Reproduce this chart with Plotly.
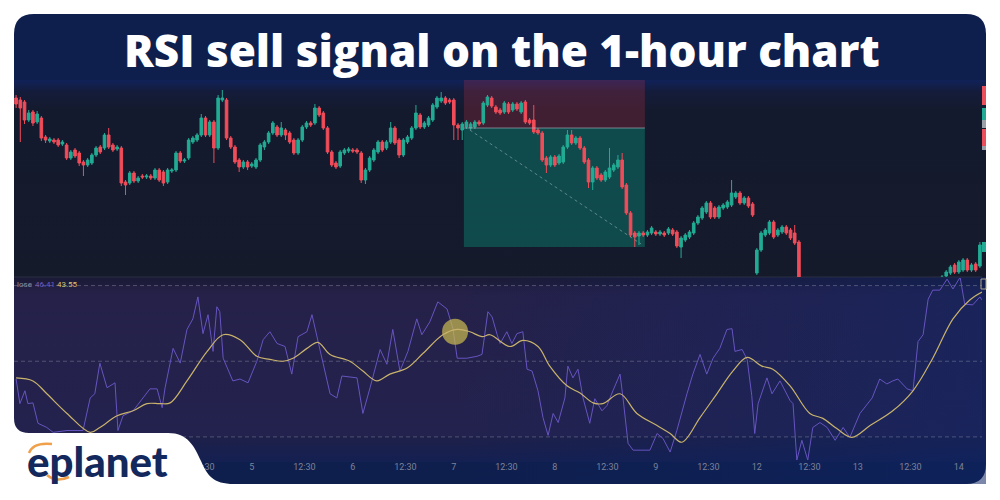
import plotly.graph_objects as go

# ---------------- data ----------------
# hourly candles (price units), index = candle number
open_ = [202,200,198,180,188,178,182,163,159,160,160,156,155,142,150,147,138,135,137,145,
         153,152,165,155,151,152,118,117,127,119,124,123,124,122,130,128,118,129,130,147,
         139,142,158,160,165,182,165,178,152,200,200,162,153,140,133,138,134,133,140,153,
         158,167,173,165,170,167,160,147,160,173,177,177,192,187,172,148,137,134,147,149,
         150,150,147,120,130,140,148,158,152,158,172,160,145,158,162,172,185,173,175,180,
         193,199,202,200,200,175,170,173,172,173,178,177,195,202,193,190,188,196,190,196,
         188,198,180,180,170,167,142,135,143,137,138,153,165,157,162,152,140,118,132,125,
         120,123,130,133,140,115,87,67,64,67,65,67,68,66,67,67,70,68,53,60,
         63,67,77,82,88,97,92,83,92,93,95,103,107,97,102,96,27,50,65,67,
         78,65,68,73,70,67,58,5,12,0,-10,-2,-5,2,-6,-12,-5,-10,-4,-11,
         -2,4,8,5,12,15,10,14,9,13,8,6,12,16,13,17,19,16,19,20,
         18,24,27,35,28,30,40,30,36,34]
high_ = [205,203,200,190,190,189,184,165,163,162,162,160,157,150,152,149,140,142,147,154,
         155,167,172,157,155,154,120,129,129,124,126,126,126,132,132,130,132,132,149,149,
         142,162,164,167,186,184,180,180,205,210,202,164,155,142,140,140,138,142,157,160,
         169,179,175,178,172,169,162,162,175,179,179,196,194,189,174,150,139,150,152,153,
         152,152,149,132,144,152,160,160,160,178,174,162,162,165,174,195,187,179,184,197,
         204,208,204,202,202,177,178,180,178,180,180,199,205,204,195,192,199,198,198,198,
         199,200,182,195,172,169,144,145,145,146,155,170,170,164,164,154,142,134,134,127,
         130,152,137,145,147,117,89,69,69,69,70,74,70,70,69,73,72,70,64,67,
         70,79,85,94,99,99,94,95,97,100,120,109,109,104,104,98,52,69,72,80,
         80,72,75,75,72,75,60,14,14,2,0,0,4,4,-4,-3,-3,-2,-2,0,
         6,10,10,14,17,17,16,16,15,15,10,14,18,18,19,20,20,20,21,21,
         25,30,35,37,40,42,42,37,38,58]
low_ = [192,158,176,178,174,176,159,157,157,156,153,154,140,140,142,134,124,133,135,143,
        146,150,151,148,149,114,105,115,117,117,121,121,120,120,118,114,116,127,128,137,
        137,140,156,158,163,163,163,137,150,198,160,151,136,128,131,130,132,131,138,150,
        156,165,163,163,160,156,145,145,158,171,173,175,183,170,146,133,131,132,145,147,
        147,146,117,116,128,138,146,148,150,156,155,142,143,156,160,170,171,171,173,178,
        191,197,195,196,160,160,160,171,170,171,174,175,193,192,186,185,186,186,188,189,
        186,176,175,166,165,138,127,133,133,135,136,151,155,155,150,136,112,110,120,118,
        118,121,128,131,111,85,63,53,55,63,63,65,64,64,63,65,64,52,42,58,
        61,65,75,80,86,81,81,81,90,91,93,101,95,95,92,83,25,48,63,65,
        61,63,66,65,60,55,5,3,-2,-12,-12,-7,-7,-8,-14,-14,-12,-12,-13,-13,
        -4,2,3,3,10,8,8,7,7,6,4,4,10,11,11,15,14,14,17,16,
        16,22,25,26,26,28,28,28,28,32]
close_ = [196,192,180,187,177,186,162,160,161,158,155,158,142,148,144,137,135,140,145,152,
          148,165,153,150,153,117,115,127,119,122,123,124,122,130,120,117,130,130,147,139,
          140,160,162,165,182,165,178,152,202,202,162,153,138,133,138,133,136,140,155,158,
          167,177,165,172,165,158,147,160,173,177,175,192,185,172,148,135,133,148,150,151,
          149,148,120,130,142,150,158,150,158,172,157,145,160,163,172,187,173,177,182,195,
          202,202,197,198,175,172,176,178,176,178,176,197,203,194,188,187,197,188,196,191,
          197,178,177,168,167,140,135,143,135,144,153,165,157,162,152,138,118,132,122,120,
          128,132,135,140,113,87,65,63,67,65,68,72,66,68,65,71,66,54,62,65,
          68,77,83,92,97,83,83,93,95,98,107,107,97,102,94,85,50,67,70,78,
          63,70,73,67,62,57,10,12,0,-10,-2,-5,2,-6,-12,-5,-10,-4,-11,-2,
          4,8,5,12,15,10,14,9,13,8,6,12,16,13,17,19,16,19,20,18,
          23,28,33,28,38,40,30,35,30,55]

# short position tool (candle index / price)
position_start = 106.4
position_end = 149.4
entry_price = 172
stop_price = 220
target_price = 53
path_start = (107.8, 170)
path_end = (148.5, 56)

# RSI (14) and its moving average, read at candle positions
rsi_pos = [0,0.9,2.1,2.8,4.0,5.2,7.3,8.8,12.1,15.9,17.6,18.7,19.9,21.6,23.5,24.2,25.4,27.8,31.8,33.5,
           34.7,35.4,37.3,39.0,40.6,42.0,43.2,44.4,45.6,46.8,47.7,48.4,49.2,51.5,53.2,55.1,57.2,58.7,60.3,62.0,
           63.9,65.5,67.0,69.1,70.3,72.2,74.6,76.2,77.4,81.0,82.4,84.1,86.5,88.1,89.5,91.2,93.1,95.2,96.4,98.3,
           100.2,102.4,103.8,104.8,107.1,109.5,110.7,112.1,113.1,114.3,115.0,116.6,117.8,119.0,120.4,121.4,122.6,124.0,125.2,126.4,
           127.6,128.8,130.4,131.1,132.3,133.5,134.7,136.3,137.5,139.2,140.4,141.8,143.5,144.2,145.4,146.6,150.6,152.3,153.7,155.4,
           157.0,159.4,160.8,162.5,164.1,165.6,167.2,168.9,170.1,170.8,172.5,173.7,174.8,175.5,176.3,178.4,179.6,181.5,183.9,184.6,
           185.5,186.7,188.1,189.3,191.0,192.7,194.6,196.5,198.1,200.5,203.4,205.2,206.9,208.3,209.5,211.7,213.1,214.3,215.5,216.7,
           217.8,219.5,221.2,222.6,224.3,225.4,227.3,229.0,229.5]
rsi_val = [45.3,38.8,42.2,38.8,39.0,33.6,32.5,31.2,31.7,31.7,40.3,41.4,49.5,43.0,44.3,31.7,35.6,36.9,42.7,42.7,
           37.7,43.0,53.4,49.5,58.4,61.2,67.0,57.3,62.3,52.6,64.4,63.1,50.8,44.8,45.3,44.3,50.0,55.7,57.8,54.7,
           53.9,46.6,56.5,57.8,62.3,53.4,41.4,40.3,46.1,45.6,36.2,43.0,53.1,49.2,58.4,47.4,52.6,61.2,57.0,60.4,
           65.7,63.8,58.6,50.8,50.8,51.3,51.8,63.1,61.7,57.0,54.7,57.8,54.7,57.3,57.8,47.9,47.4,42.2,35.1,30.4,
           36.2,33.8,40.3,48.7,45.6,47.9,40.3,33.6,40.1,36.9,38.3,42.2,46.6,40.3,28.3,26.5,26.5,30.9,29.6,26.0,
           31.7,41.4,46.6,51.8,46.6,50.8,53.4,58.4,58.6,52.6,53.1,50.5,40.9,30.9,38.8,45.6,41.4,44.8,39.6,38.8,
           23.9,29.1,23.9,32.5,33.8,32.5,29.1,32.5,29.9,36.2,40.3,45.3,44.0,44.8,45.3,42.7,42.2,55.2,57.0,66.4,
           68.8,68.8,71.7,69.1,72.2,65.1,64.9,67.0,66.2]
ma_pos = [0,4.0,7.3,12.1,17.6,19.9,24.0,27.8,31.1,34.2,36.6,40.6,45.4,49.2,53.2,57.2,60.3,63.4,65.8,69.1,
          71.7,74.6,79.3,82.4,85.7,88.8,92.9,96.7,101.4,104.8,107.8,110.7,112.6,117.3,120.4,124.0,126.8,130.9,134.0,137.1,
          139.4,143.5,147.5,152.3,155.4,158.2,162.5,166.5,170.3,173.7,177.2,179.8,183.9,188.6,191.7,195.0,198.6,202.9,208.3,213.1,
          217.8,222.6,226.6,229.5]
ma_val = [45.6,44.8,41.4,36.2,31.2,32.5,35.6,36.9,38.8,38.8,39.0,44.8,52.6,57.0,55.7,51.3,50.5,50.0,50.8,53.4,
          55.0,51.8,50.0,47.4,44.8,46.6,48.2,52.1,57.0,58.4,57.8,56.5,57.0,53.9,55.5,53.9,48.7,43.5,41.6,39.0,
          38.8,41.4,36.2,33.0,30.9,28.6,35.1,41.4,47.4,51.0,48.7,47.9,43.5,36.2,34.9,32.2,29.9,33.0,36.9,42.2,
          50.8,61.2,66.2,68.3]
rsi_levels = [70, 50, 30]
signal_point = (104.3, 57.8)

tick_pos = [44.5,56,68.5,80,92.5,104,116.5,128,140.5,152,164.5,176,188.5,200,212.5,224]
tick_text = ["12:30","5","12:30","6","12:30","7","12:30","8","12:30","9","12:30","12","12:30","13","12:30","14"]

n = len(close_)
idx = list(range(n))
XR = [-0.5, n - 0.5]

GREEN = "#22ab94"
RED = "#f04c59"
PURPLE = "#6654c0"
YELLOW = "#c9b36c"

# figure is 992x492, shown at an 8px page offset -> pixel coordinates below are page pixels
W, H, OFF = 992, 492, 8
def fx(px):
    return (px - OFF) / W
def fy(py):
    return 1 - (py - OFF) / H

fig = go.Figure()

# ---------- background subplot (page-pixel coords) ----------
def panel(x0, x1, y0, y1, stops, orient="vertical", start=None, stop=None):
    fig.add_trace(go.Scatter(
        x=[x0, x1, x1, x0, x0], y=[y0, y0, y1, y1, y0], mode="lines",
        line=dict(width=0), fill="toself",
        fillgradient=dict(type=orient, colorscale=stops,
                          start=start if start is not None else (y0 if orient == "vertical" else x0),
                          stop=stop if stop is not None else (y1 if orient == "vertical" else x1)),
        hoverinfo="skip", showlegend=False, xaxis="x", yaxis="y"))

panel(14, 986, 80, 277, [[0, "#10225a"], [0.06, "#141c3a"], [0.15, "#141a2e"], [1, "#151a2b"]])
panel(14, 986, 277, 462, [[0, "#1b1a35"], [0.1, "#211f43"], [0.85, "#1f2048"], [1, "#142052"]])
panel(14, 986, 277, 484, [[0, "rgba(14,34,96,0)"], [0.45, "rgba(14,34,96,0)"], [1, "rgba(14,36,100,0.55)"]],
      orient="horizontal", start=14, stop=986)
fig.add_trace(go.Scatter(x=[14, 982], y=[277, 277], mode="lines", line=dict(color="#2b2f45", width=1),
                         hoverinfo="skip", showlegend=False, xaxis="x", yaxis="y"))

# ---------- price pane ----------
# short-position zones drawn as bars (bar layer sits beneath the candles)
pos_mid = (position_start + position_end) / 2
pos_w = position_end - position_start
fig.add_trace(go.Bar(x=[pos_mid], y=[stop_price - entry_price], base=[entry_price], width=[pos_w],
                     marker=dict(color="rgba(242,54,69,0.2)", line=dict(width=0)),
                     hoverinfo="skip", showlegend=False, xaxis="x2", yaxis="y2"))
fig.add_trace(go.Bar(x=[pos_mid], y=[target_price - entry_price], base=[entry_price], width=[pos_w],
                     marker=dict(color="rgba(8,153,129,0.38)", line=dict(width=0)),
                     hoverinfo="skip", showlegend=False, xaxis="x2", yaxis="y2"))
fig.add_trace(go.Candlestick(
    x=idx, open=open_, high=high_, low=low_, close=close_,
    increasing=dict(line=dict(color=GREEN, width=1), fillcolor=GREEN),
    decreasing=dict(line=dict(color=RED, width=1), fillcolor=RED),
    whiskerwidth=0, hoverinfo="skip", showlegend=False, xaxis="x2", yaxis="y2"))
fig.add_trace(go.Scatter(x=[position_start, position_end], y=[entry_price, entry_price], mode="lines",
                         line=dict(color="rgba(170,190,200,0.6)", width=1),
                         hoverinfo="skip", showlegend=False, xaxis="x2", yaxis="y2"))
fig.add_trace(go.Scatter(x=[path_start[0], path_end[0]], y=[path_start[1], path_end[1]], mode="lines",
                         line=dict(color="rgba(170,200,200,0.5)", width=1, dash="3px,3px"),
                         hoverinfo="skip", showlegend=False, xaxis="x2", yaxis="y2"))

# ---------- RSI pane ----------
fig.add_trace(go.Scatter(x=[XR[0], XR[1], XR[1], XR[0], XR[0]], y=[70, 70, 30, 30, 70], mode="lines",
                         line=dict(width=0), fill="toself", fillcolor="rgba(126,87,194,0.05)",
                         hoverinfo="skip", showlegend=False, xaxis="x3", yaxis="y3"))
for lv in rsi_levels:
    fig.add_trace(go.Scatter(x=XR, y=[lv, lv], mode="lines",
                             line=dict(color="rgba(140,145,165,0.45)", width=1, dash="4px,3px"),
                             hoverinfo="skip", showlegend=False, xaxis="x3", yaxis="y3"))
fig.add_trace(go.Scatter(x=rsi_pos, y=rsi_val, mode="lines", line=dict(color=PURPLE, width=1),
                         hoverinfo="skip", showlegend=False, xaxis="x3", yaxis="y3"))
fig.add_trace(go.Scatter(x=[signal_point[0]], y=[signal_point[1]], mode="markers",
                         marker=dict(size=26, color="rgba(200,185,80,0.72)", line=dict(width=0)),
                         hoverinfo="skip", showlegend=False, xaxis="x3", yaxis="y3"))
fig.add_trace(go.Scatter(x=ma_pos, y=ma_val, mode="lines", line=dict(color=YELLOW, width=1.2, shape="spline"),
                         hoverinfo="skip", showlegend=False, xaxis="x3", yaxis="y3"))

# ---------- shapes ----------
card = "M 34,14 L 966,14 Q 986,14 986,34 L 986,464 Q 986,484 966,484 L 34,484 Q 14,484 14,464 L 14,34 Q 14,14 34,14 Z"
white_tab = ("M 0,400 L 14,400 L 14,418 Q 14,433 29,433 L 168,433 C 188,433 194,446 201,461 "
             "C 207,475 213,484 234,484 L 234,500 L 0,500 Z")
shapes = [
    dict(type="path", path=card, xref="x", yref="y", fillcolor="#0e1f4e", line=dict(width=0), layer="below"),
    dict(type="path", path=white_tab, xref="x", yref="y", fillcolor="#ffffff", line=dict(width=0), layer="above"),
    dict(type="path", path="M 29,453 Q 33,442 52,444", xref="x", yref="y",
         line=dict(color="#f0a04b", width=2.5), layer="above"),
    dict(type="path", path="M 47,475 Q 56,483 69,477", xref="x", yref="y",
         line=dict(color="#f0a04b", width=2.5), layer="above"),
]
# price-scale tags peeking at the right edge
for y0, y1, col in [(86, 105, "#e9505c"), (108, 120, "#22ab94"), (120, 128, "#9aa0a8"),
                    (129, 146, "#e9505c"), (146, 150, "#9aa0a8"), (242, 252, "#22ab94")]:
    shapes.append(dict(type="rect", x0=982, x1=986, y0=y0, y1=y1, xref="x", yref="y",
                       fillcolor=col, line=dict(width=0), layer="above"))
shapes.append(dict(type="rect", x0=981, x1=986, y0=279, y1=289, xref="x", yref="y",
                   fillcolor="rgba(0,0,0,0)", line=dict(color="#b0a98a", width=1), layer="above"))

annotations = [
    dict(x=502, y=50, xref="x", yref="y", text="RSI sell signal on the 1-hour chart", showarrow=False,
         font=dict(family="Open Sans", size=44, color="#ffffff", weight=800), xanchor="center", yanchor="middle"),
    dict(x=97, y=461, xref="x", yref="y", text="eplanet", showarrow=False,
         font=dict(family="Lato", size=42, color="#13285c", weight=900), xanchor="center", yanchor="middle"),
    dict(x=15, y=284, xref="x", yref="y", text="lose", showarrow=False,
         font=dict(family="Roboto", size=8, color="#8a8fa3"), xanchor="left", yanchor="middle"),
    dict(x=33, y=284, xref="x", yref="y", text="46.41", showarrow=False,
         font=dict(family="Roboto", size=8, color="#6f5ac0"), xanchor="left", yanchor="middle"),
    dict(x=55, y=284, xref="x", yref="y", text="43.55", showarrow=False,
         font=dict(family="Roboto", size=8, color="#d8c470"), xanchor="left", yanchor="middle"),
]

hidden = dict(visible=False, fixedrange=True)
fig.update_layout(
    width=W, height=H, margin=dict(l=0, r=0, t=0, b=0),
    paper_bgcolor="#ffffff", plot_bgcolor="rgba(0,0,0,0)",
    showlegend=False, shapes=shapes, annotations=annotations, boxgap=0.12, barmode="overlay",
    xaxis=dict(domain=[0, 1], range=[OFF, OFF + W], **hidden),
    yaxis=dict(domain=[0, 1], range=[OFF + H, OFF], **hidden),
    xaxis2=dict(domain=[fx(14), fx(982)], range=XR, visible=False, rangeslider=dict(visible=False), anchor="y2"),
    yaxis2=dict(domain=[fy(277), fy(80)], range=[23, 220], visible=False, anchor="x2"),
    xaxis3=dict(domain=[fx(14), fx(982)], range=XR, anchor="y3", showgrid=False, zeroline=False, showline=False,
                tickmode="array", tickvals=tick_pos, ticktext=tick_text, ticks="",
                tickfont=dict(family="Roboto", size=9, color="#7d8298")),
    yaxis3=dict(domain=[fy(460), fy(278)], range=[23.9, 72], visible=False, anchor="x3"),
)

fig.write_html("out.html")
